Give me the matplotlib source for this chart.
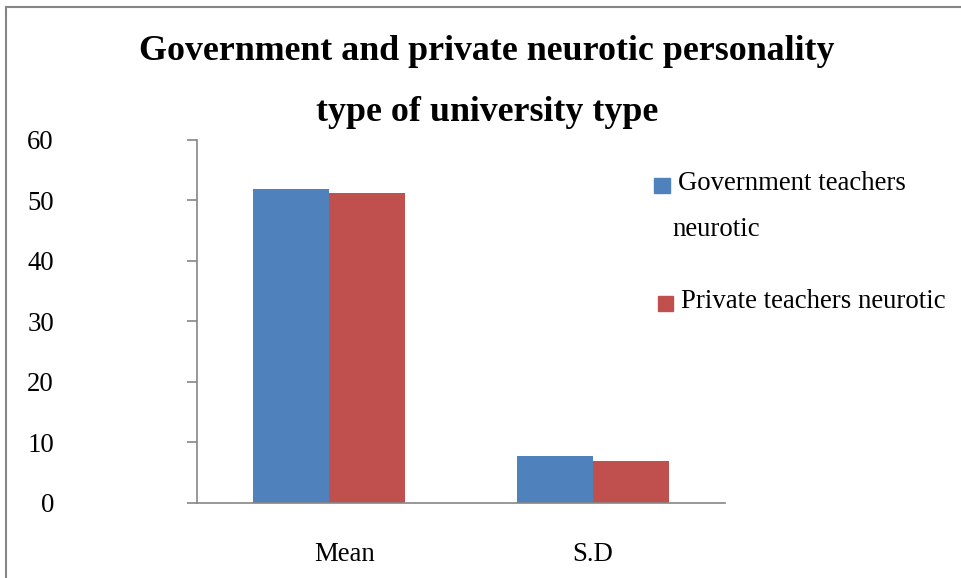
import matplotlib
import numpy as np

matplotlib.use('Agg')
from matplotlib import pyplot as plt
from matplotlib.lines import Line2D
from matplotlib.patches import Rectangle

categories = ["Mean", "S.D"]
government = [51.9, 7.8]
private = [51.3, 7.0]
series_labels = ["Government teachers", "Private teachers neurotic"]
y_ticks = [0, 10, 20, 30, 40, 50, 60]

blue = "#4f81bd"
red = "#c0504d"
grey = "#868686"
W, H = 961, 578

plt.rcParams['font.family'] = ['Liberation Serif', 'DejaVu Serif']

fig = plt.figure(figsize=(W / 100, H / 100), dpi=100, facecolor="white")
ax = fig.add_axes([0.205, 0.1298, 0.5494, 0.628])

width = 0.288
ind = np.arange(len(categories))
ax.bar(ind - width / 2, government, width=width, color=blue, linewidth=0)
ax.bar(ind + width / 2, private, width=width, color=red, linewidth=0)

ax.set_xlim(-0.5, 1.5)
ax.set_ylim(0, 60)
ax.set_yticks(y_ticks)
# category labels sit a touch right of the group centre, as in the original layout
ax.set_xticks(ind + np.array([0.06, 0.0]))
ax.set_xticklabels(categories)

ax.spines['top'].set_visible(False)
ax.spines['right'].set_visible(False)
for side in ('left', 'bottom'):
    ax.spines[side].set_color(grey)
    ax.spines[side].set_linewidth(1.2)

ax.tick_params(axis='y', direction='out', length=7, width=1.2, color=grey, pad=96, labelsize=19.3)
ax.tick_params(axis='x', length=0, pad=28, labelsize=19.3)

fig.text(0.507, 1 - 82 / H, "Government and private neurotic personality\ntype of university type",
         ha='center', va='center', fontsize=25.8, fontweight='bold', linespacing=2.1)


def px(x, y):
    return x / W, 1 - y / H


# legend, drawn by hand so the swatch sits on the first text line
fig.add_artist(Rectangle(px(654, 193), 16 / W, 15 / H, color=blue, transform=fig.transFigure))
fig.text(*px(678, 184), series_labels[0], ha='left', va='center', fontsize=19.3)
fig.text(*px(672, 229), "neurotic", ha='left', va='center', fontsize=19.3)
fig.add_artist(Rectangle(px(658, 311), 15 / W, 15 / H, color=red, transform=fig.transFigure))
fig.text(*px(681, 302), series_labels[1], ha='left', va='center', fontsize=19.3)

# chart frame
fig.add_artist(Line2D([6 / W, 1.0], [1 - 7 / H, 1 - 7 / H], color=grey, linewidth=1.5,
                      transform=fig.transFigure))
fig.add_artist(Line2D([6 / W, 6 / W], [0.0, 1 - 7 / H], color=grey, linewidth=1.5,
                      transform=fig.transFigure))

plt.savefig("out.png", facecolor=fig.get_facecolor(), edgecolor='none')
